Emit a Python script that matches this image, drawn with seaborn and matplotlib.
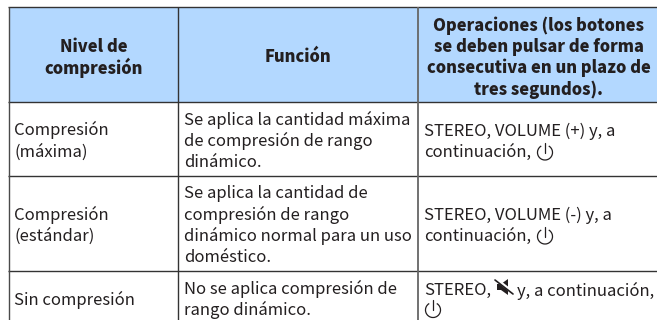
import matplotlib
matplotlib.use("Agg")
import matplotlib.pyplot as plt
from matplotlib.patches import Arc, Polygon, Rectangle
import seaborn as sns

sns.set_theme(style="white")
FONT = ["Noto Sans CJK JP", "DejaVu Sans"]
plt.rcParams["font.family"] = FONT

headers = [["Nivel de", "compresión"], ["Función"],
           ["Operaciones (los botones", "se deben pulsar de forma",
            "consecutiva en un plazo de", "tres segundos)."]]
col_1 = [["Compresión", "(máxima)"], ["Compresión", "(estándar)"], ["Sin compresión"]]
col_2 = [["Se aplica la cantidad máxima", "de compresión de rango", "dinámico."],
         ["Se aplica la cantidad de", "compresión de rango", "dinámico normal para un uso", "doméstico."],
         ["No se aplica compresión de", "rango dinámico."]]
col_3 = [["STEREO, VOLUME (+) y, a", "continuación,"],
         ["STEREO, VOLUME (-) y, a", "continuación,"],
         ["STEREO,", "y, a continuación,"]]

W, H = 657, 320
fig = plt.figure(figsize=(W / 100, H / 100), dpi=100, facecolor="white")
ax = fig.add_axes([0, 0, 1, 1])
ax.set_xlim(0, W)
ax.set_ylim(H, 0)
ax.axis("off")

XS = [9, 178, 418, 660]
YS = [7, 102, 176, 271, 330]
INK = "#231f20"
HEAD = "#b3d8ff"
LH = 21.4
BODY = 12.0
HSIZE = 11.85

ax.add_patch(Rectangle((XS[0], YS[0]), XS[3] - XS[0], YS[1] - YS[0], fc=HEAD, ec="none"))
for y in YS[:-1]:
    ax.plot([XS[0] - 1, W], [y, y], color="#333333", lw=1.0, solid_capstyle="butt")
for x, c, w in zip(XS[:3], ["#4a4a4a", "#333333", "#666666"], [1.0, 1.0, 1.3]):
    ax.plot([x, x], [YS[0], H], color=c, lw=w, solid_capstyle="butt")


def block(x, yc, lines, lh=LH, **kw):
    y0 = yc - lh * (len(lines) - 1) / 2
    for i, s in enumerate(lines):
        ax.text(x, y0 + i * lh, s, va="center_baseline", color=INK, **kw)


head_x = [(XS[i] + XS[i + 1]) / 2 for i in range(2)] + [538.5]
for x, lines in zip(head_x, headers):
    block(x, 55.5, lines, ha="center", fontsize=HSIZE, fontweight="black")

for r in range(3):
    yc = (YS[r + 1] + YS[r + 2]) / 2 if r < 2 else 297.5
    block(14, yc, col_1[r], ha="left", fontsize=BODY)
    block(184, yc, col_2[r], ha="left", fontsize=BODY)


def power(cx, cy):
    ax.add_patch(Arc((cx, cy), 15, 15, theta1=-60, theta2=240, angle=0, color=INK, lw=0.9))
    ax.plot([cx, cx], [cy - 10, cy], color=INK, lw=0.9)


for r, yc in enumerate([140, 224]):
    block(424, yc, col_3[r], ha="left", fontsize=BODY)
    power(545, yc + 12.5)

ax.text(424, 288.5, col_3[2][0], ha="left", va="center_baseline", color=INK, fontsize=BODY)
ax.text(517, 288.5, col_3[2][1], ha="left", va="center_baseline", color=INK, fontsize=BODY)
ax.add_patch(Polygon([(497, 284), (501, 284), (508, 279), (508, 295), (501, 290), (497, 290)],
                     fc=INK, ec="none"))
ax.plot([495, 513], [278.5, 292.5], color="white", lw=2.4)
ax.plot([495, 513], [280, 294], color=INK, lw=1.2)
power(433, 310)

fig.savefig("out.png", dpi=100, facecolor="white")
